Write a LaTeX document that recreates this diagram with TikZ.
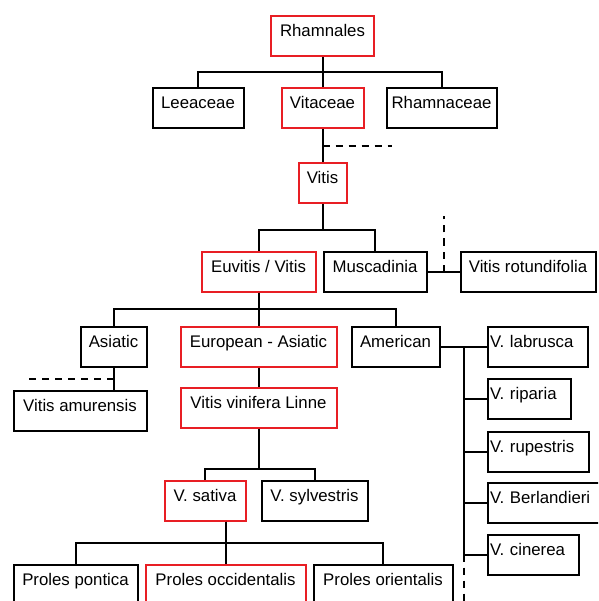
\documentclass[tikz,border=0pt]{standalone}
\usepackage{fontspec}
\setmainfont{Liberation Sans}
\usepackage{xcolor}
\usepackage{tikz}
\usetikzlibrary{positioning}
\definecolor{keyred}{RGB}{232,30,36}
\tikzset{
    taxon/.style={
        rectangle,
        draw=black,
        line width=2pt,
        text centered,
        minimum height=40pt,
        text height=12pt,
        text depth=11pt
    },
    keytaxon/.style={
        taxon,
        draw=keyred
    },
    species/.style={
        taxon,
        align=left,
        inner xsep=2.5pt,
        text width=#1
    },
    link/.style={
        line width=2pt
    },
    dashlink/.style={
        line width=2pt,
        dash pattern=on 7pt off 6pt
    }
}

\begin{document}
\begin{tikzpicture}[node distance=75pt, font=\fontsize{16.8pt}{20pt}\selectfont]
          \useasboundingbox (0,0) rectangle (598pt,-601pt);
          \clip (0,0) rectangle (598pt,-601pt);
          \node (rhamnales) [keytaxon, minimum width=103pt] at (322.5pt,-36.5pt) {Rhamnales};
          \node (vitaceae) [keytaxon, minimum width=82pt, below of=rhamnales, yshift=3pt] {Vitaceae};
          \node (leeaceae) [taxon, minimum width=91pt, left of=vitaceae, xshift=-49.5pt] {Leeaceae};
          \node (rhamnaceae) [taxon, minimum width=110pt, right of=vitaceae, xshift=44pt] {Rhamnaceae};
          \node (vitis) [keytaxon, minimum width=48pt, below of=vitaceae] {Vitis};
          \node (euvitis) [keytaxon, minimum width=114pt, below of=vitis, xshift=-64pt, yshift=-13pt] {Euvitis / Vitis};
          \node (muscadinia) [taxon, minimum width=103pt, right of=euvitis, xshift=41.5pt] {Muscadinia};
          \node (rotundifolia) [taxon, minimum width=135pt, right of=muscadinia, xshift=78pt] {Vitis rotundifolia};
          \node (european) [keytaxon, minimum width=156pt, below of=euvitis] {European - Asiatic};
          \node (asiatic) [taxon, minimum width=66pt, left of=european, xshift=-70pt] {Asiatic};
          \node (american) [taxon, minimum width=88pt, right of=european, xshift=62pt] {American};
          \node (amurensis) [taxon, minimum width=133pt, below of=asiatic, xshift=-33.5pt, yshift=11pt] {Vitis amurensis};
          \node (vinifera) [keytaxon, minimum width=156pt, below of=european, yshift=14pt] {Vitis vinifera Linne};
          \node (sativa) [keytaxon, minimum width=81pt, below of=vinifera, xshift=-53.5pt, yshift=-18pt] {V. sativa};
          \node (sylvestris) [taxon, minimum width=106pt, right of=sativa, xshift=34.5pt] {V. sylvestris};
          \node (occidentalis) [keytaxon, minimum width=160pt, below of=sativa, xshift=20.5pt, yshift=-9pt] {Proles occidentalis};
          \node (pontica) [taxon, minimum width=124pt, left of=occidentalis, xshift=-75pt] {Proles pontica};
          \node (orientalis) [taxon, minimum width=139pt, right of=occidentalis, xshift=82.5pt] {Proles orientalis};
          \node (labrusca) [species=95pt, right of=american, xshift=67pt] {V. labrusca};
          \node (riparia) [species=78pt, below of=labrusca, xshift=-8.5pt, yshift=22.5pt] {V. riparia};
          \node (rupestris) [species=96pt, below of=riparia, xshift=9pt, yshift=22.5pt] {V. rupestris};
          \node (berlandieri) [species=107pt, below of=rupestris, xshift=5.5pt, yshift=24pt] {V. Berlandieri};
          \node (cinerea) [species=86pt, below of=berlandieri, xshift=-10.5pt, yshift=23pt] {V. cinerea};
          \draw [link] (rhamnales) -- (vitaceae);
          \draw [link] (rhamnales.south) -- ++(0,-15pt) -| (leeaceae.north);
          \draw [link] (rhamnales.south) -- ++(0,-15pt) -| (rhamnaceae.north);
          \draw [link] (vitaceae) -- (vitis);
          \draw [dashlink] ([yshift=-17pt]vitaceae.south) -- ++(69pt,0);
          \draw [link] (vitis.south) -- ++(0,-26pt) -| (euvitis.north);
          \draw [link] (vitis.south) -- ++(0,-26pt) -| (muscadinia.north);
          \draw [link] (muscadinia) -- coordinate (rotjoin) (rotundifolia);
          \draw [dashlink] (rotjoin) -- ++(0,55pt);
          \draw [link] (euvitis) -- (european);
          \draw [link] (euvitis.south) -- ++(0,-16pt) -| (asiatic.north);
          \draw [link] (euvitis.south) -- ++(0,-16pt) -| (american.north);
          \draw [link] (asiatic.south) -- coordinate (amurjoin) (asiatic.south |- amurensis.north);
          \draw [dashlink] (amurjoin) -- ++(-86pt,0);
          \draw [link] (european) -- (vinifera);
          \draw [link] (vinifera.south) -- ++(0,-40pt) -| (sativa.north);
          \draw [link] (vinifera.south) -- ++(0,-40pt) -| (sylvestris.north);
          \draw [link] (sativa.south -| occidentalis.north) -- (occidentalis.north);
          \draw [link] (sativa.south -| occidentalis.north) -- ++(0,-21pt) -| (pontica.north);
          \draw [link] (sativa.south -| occidentalis.north) -- ++(0,-21pt) -| (orientalis.north);
          \draw [link] (american) -- coordinate (vjoin) (labrusca);
          \draw [link] (vjoin) |- (cinerea.west);
          \foreach \kind in {riparia,rupestris,berlandieri}
            \draw [link] (vjoin |- \kind.west) -- (\kind.west);
          \draw [dashlink] (vjoin |- cinerea.west) -- ++(0,-60pt);
        \end{tikzpicture}
\end{document}
